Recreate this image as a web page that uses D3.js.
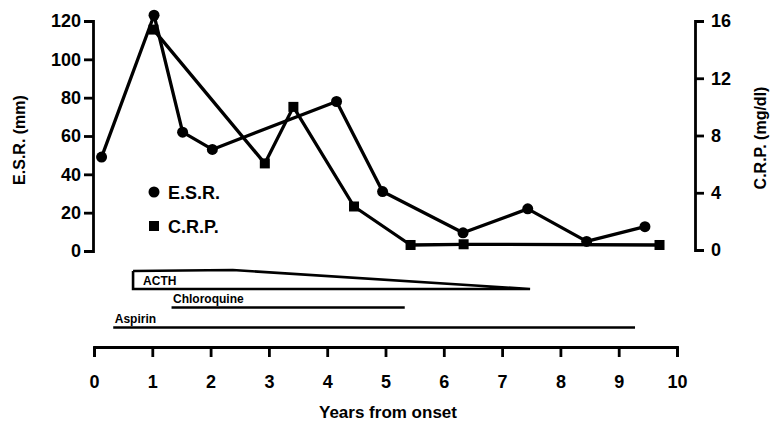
<!DOCTYPE html>
<html>
<head>
<meta charset="utf-8">
<script src="https://cdn.jsdelivr.net/npm/d3@7"></script>
<style>
    body { margin: 0; background: #fff; }
    svg { display: block; font-family: "Liberation Sans", Arial, sans-serif; font-weight: bold; }
    .axis path, .axis line { stroke: #000; stroke-width: 2.8; }
    .axis text { font-size: 18px; font-weight: bold; fill: #000; }
</style>
</head>
<body>
<div id="chart"></div>
<script>
// E.S.R. (mm), left axis
let esrYears = [0.13, 1.03, 1.52, 2.03, 4.16, 4.95, 6.33, 7.44, 8.45, 9.45];
let esrValues = [49, 123, 62, 53, 78, 31, 9.5, 22, 5, 12.7];

// C.R.P. (mg/dl), right axis
let crpYears = [1.02, 2.93, 3.42, 4.46, 5.43, 6.34, 9.70];
let crpValues = [15.4, 6.05, 10.0, 3.04, 0.35, 0.4, 0.35];

// treatments (years from onset)
let drugs = ["ACTH", "Chloroquine", "Aspirin"];
let drugStart = [0.67, 1.33, 0.33];
let drugEnd = [7.48, 5.33, 9.28];
let acthTaperStart = 2.38;

let xTicks = [0, 1, 2, 3, 4, 5, 6, 7, 8, 9, 10];
let esrTicks = [0, 20, 40, 60, 80, 100, 120];
let crpTicks = [0, 4, 8, 12, 16];

let width = 770, height = 426;

let svg = d3.select("#chart").append("svg")
    .attr("width", width)
    .attr("height", height);

// scales
let x = d3.scaleLinear().domain([0, 10]).range([94, 677]);
let yL = d3.scaleLinear().domain([0, 120]).range([251, 21]);
let yR = d3.scaleLinear().domain([0, 16]).range([250, 21]);

// left axis
svg.append("g")
    .attr("class", "axis")
    .attr("transform", "translate(93,0)")
    .call(d3.axisLeft(yL).tickValues(esrTicks).tickSize(9).tickSizeOuter(9).tickPadding(3));

// right axis
svg.append("g")
    .attr("class", "axis")
    .attr("transform", "translate(695,0)")
    .call(d3.axisRight(yR).tickValues(crpTicks).tickSize(9).tickSizeOuter(9).tickPadding(7));

// bottom axis
svg.append("g")
    .attr("class", "axis")
    .attr("transform", "translate(0,347)")
    .call(d3.axisBottom(x).tickValues(xTicks).tickSize(10).tickSizeOuter(10).tickPadding(18));

// axis titles
svg.append("text")
    .attr("transform", "translate(25,140) rotate(-90)")
    .attr("text-anchor", "middle")
    .style("font-size", "16px")
    .text("E.S.R. (mm)");

svg.append("text")
    .attr("transform", "translate(766,138) rotate(-90)")
    .attr("text-anchor", "middle")
    .style("font-size", "16px")
    .text("C.R.P. (mg/dl)");

svg.append("text")
    .attr("x", 388)
    .attr("y", 418)
    .attr("text-anchor", "middle")
    .style("font-size", "17px")
    .text("Years from onset");

// lines
let esrData = esrYears.map((d, i) => ({year: d, value: esrValues[i]}));
let crpData = crpYears.map((d, i) => ({year: d, value: crpValues[i]}));

let esrLine = d3.line().x(d => x(d.year)).y(d => yL(d.value));
let crpLine = d3.line().x(d => x(d.year)).y(d => yR(d.value));

svg.append("path")
    .datum(crpData)
    .attr("d", crpLine)
    .attr("fill", "none")
    .attr("stroke", "#000")
    .attr("stroke-width", 3.3)
    .attr("stroke-linejoin", "round");

svg.append("path")
    .datum(esrData)
    .attr("d", esrLine)
    .attr("fill", "none")
    .attr("stroke", "#000")
    .attr("stroke-width", 3.3)
    .attr("stroke-linejoin", "round");

svg.selectAll(".esr-dot")
    .data(esrData)
    .enter()
    .append("circle")
    .attr("class", "esr-dot")
    .attr("cx", d => x(d.year))
    .attr("cy", d => yL(d.value))
    .attr("r", 5.5)
    .attr("fill", "#000");

svg.selectAll(".crp-dot")
    .data(crpData)
    .enter()
    .append("rect")
    .attr("class", "crp-dot")
    .attr("x", d => x(d.year) - 5)
    .attr("y", d => yR(d.value) - 5)
    .attr("width", 10)
    .attr("height", 10)
    .attr("fill", "#000");

// legend
let legend = svg.append("g").attr("transform", "translate(154,192)");
legend.append("circle").attr("r", 5.5).attr("fill", "#000");
legend.append("text").attr("x", 14).attr("y", 6.5).style("font-size", "18px").text("E.S.R.");
legend.append("rect").attr("x", -5).attr("y", 29).attr("width", 10).attr("height", 10).attr("fill", "#000");
legend.append("text").attr("x", 14).attr("y", 41).style("font-size", "18px").text("C.R.P.");

// treatments
let acthTop = 271, acthBottom = 289;
svg.append("path")
    .attr("d", d3.line()([
        [x(drugStart[0]), acthTop],
        [x(acthTaperStart), acthTop - 1],
        [x(drugEnd[0]), acthBottom],
        [x(drugStart[0]), acthBottom],
        [x(drugStart[0]), acthTop]
    ]))
    .attr("fill", "none")
    .attr("stroke", "#000")
    .attr("stroke-width", 2.6);

svg.append("text")
    .attr("x", x(drugStart[0]) + 10)
    .attr("y", 285)
    .style("font-size", "12px")
    .text(drugs[0]);

let lineY = [null, 307.5, 327.5];
[1, 2].forEach(i => {
    svg.append("line")
        .attr("x1", x(drugStart[i]))
        .attr("x2", x(drugEnd[i]))
        .attr("y1", lineY[i])
        .attr("y2", lineY[i])
        .attr("stroke", "#000")
        .attr("stroke-width", 2.6);
    svg.append("text")
        .attr("x", x(drugStart[i]) + 1.5)
        .attr("y", lineY[i] - 5)
        .style("font-size", "12px")
        .text(drugs[i]);
});
</script>
</body>
</html>
